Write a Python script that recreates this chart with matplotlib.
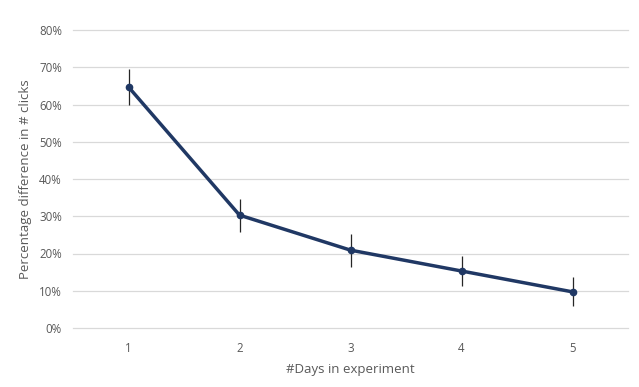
import matplotlib
matplotlib.use("Agg")
import matplotlib.pyplot as plt
from matplotlib.ticker import PercentFormatter

days = [1, 2, 3, 4, 5]
pct_diff = [64.7, 30.3, 20.9, 15.3, 9.7]
err = [4.7, 4.4, 4.4, 3.9, 3.9]
yticks = [0, 10, 20, 30, 40, 50, 60, 70, 80]

plt.rcParams['font.family'] = ['Open Sans', 'DejaVu Sans']
fig = plt.figure(figsize=(6.39, 3.87), dpi=100)
ax = fig.add_axes([73/639, 1-328/387, (628-73)/639, (328-30)/387])

ax.errorbar(days, pct_diff, yerr=err, color='#203864', lw=2.5, marker='o', ms=4.5,
            ecolor='#262626', elinewidth=0.9, capsize=0, zorder=3)
ax.set_xlim(0.5, 5.5)
ax.set_ylim(0, 80)
ax.set_yticks(yticks)
ax.set_xticks(days)
ax.yaxis.set_major_formatter(PercentFormatter(decimals=0))
ax.grid(axis='y', color='#d9d9d9', lw=0.9)
for gl in ax.get_ygridlines():
    gl.set_clip_on(False)
ax.set_axisbelow(True)
for s in ax.spines.values():
    s.set_visible(False)
ax.tick_params(length=0, colors='#595959', labelsize=8.3)
ax.tick_params(axis='x', pad=10)
ax.tick_params(axis='y', pad=8)
ax.set_xlabel('#Days in experiment', color='#595959', fontsize=9.5, labelpad=6)
ax.set_ylabel('Percentage difference in # clicks', color='#595959', fontsize=9.5, labelpad=5)
fig.savefig('out.png', dpi=100)
